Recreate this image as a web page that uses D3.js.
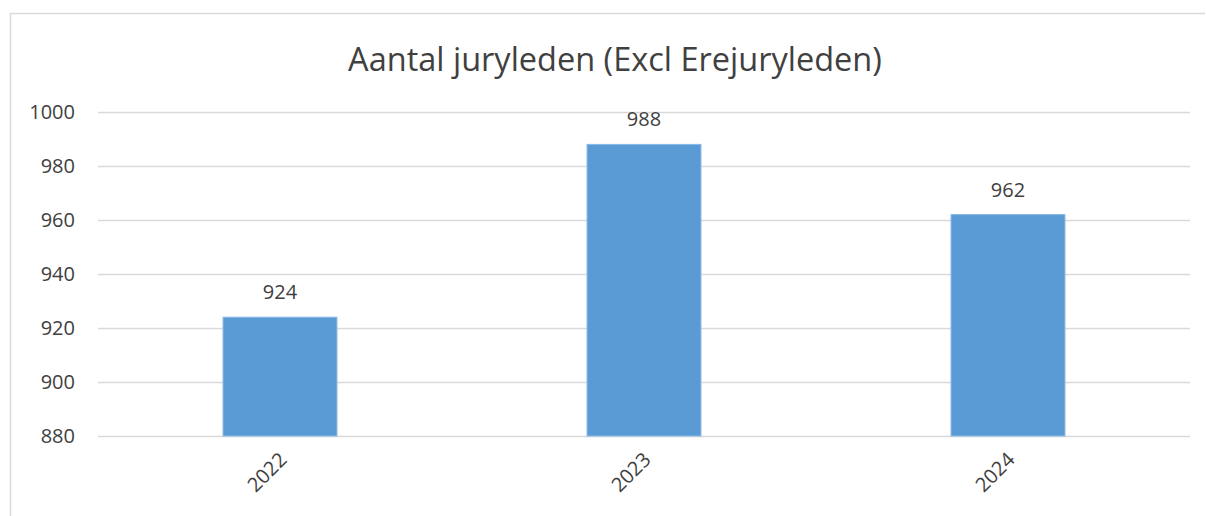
<!DOCTYPE html>
<html>
<head>
<meta charset="utf-8">
<script src="https://cdn.jsdelivr.net/npm/d3@7"></script>
<style>
  body { margin: 0; background: #fff; }
  text { font-family: "Open Sans", "Noto Sans", sans-serif; fill: #404040; }
</style>
</head>
<body>
<script>
// chart data
var years = ["2022", "2023", "2024"];
var members = [924, 988, 962];
var yTicks = [880, 900, 920, 940, 960, 980, 1000];
var title = "Aantal juryleden (Excl Erejuryleden)";

var w = 1206, h = 516;
var plotLeft = 98, plotRight = 1190, plotTop = 112, plotBottom = 436;

var svg = d3.select("body").append("svg")
  .attr("width", w)
  .attr("height", h);

// chart border (only top and left show in the crop)
svg.append("path")
  .attr("d", "M10.5," + h + "V13.5H" + (w - 1))
  .attr("fill", "none")
  .attr("stroke", "#d9d9d9")
  .attr("stroke-width", 1.5);

var x = d3.scaleBand()
  .domain(years)
  .range([plotLeft, plotRight])
  .paddingInner(0.687)
  .paddingOuter(0.3435);

var y = d3.scaleLinear()
  .domain([880, 1000])
  .range([plotBottom, plotTop]);

// gridlines + y labels
var yAxis = svg.append("g")
  .attr("transform", "translate(" + plotLeft + ",0)")
  .call(d3.axisLeft(y).tickValues(yTicks).tickFormat(d3.format("d"))
    .tickSize(-(plotRight - plotLeft)).tickPadding(23));
yAxis.select(".domain").remove();
yAxis.selectAll(".tick line").attr("stroke", "#d9d9d9").attr("stroke-width", 1.5);
yAxis.selectAll(".tick text")
  .attr("font-size", 20)
  .attr("font-family", "'Open Sans', sans-serif")
  .attr("fill", "#404040");

// bars
svg.selectAll("rect.bar")
  .data(members)
  .enter()
  .append("rect")
  .attr("class", "bar")
  .attr("x", function(d, i) { return x(years[i]); })
  .attr("y", function(d) { return y(d); })
  .attr("width", x.bandwidth())
  .attr("height", function(d) { return y(880) - y(d); })
  .attr("fill", "#5b9bd5")
  .attr("stroke", "#8ab8e6")
  .attr("stroke-width", 1);

// value labels
svg.selectAll("text.val")
  .data(members)
  .enter()
  .append("text")
  .attr("class", "val")
  .attr("x", function(d, i) { return x(years[i]) + x.bandwidth() / 2; })
  .attr("y", function(d) { return y(d) - 18; })
  .attr("text-anchor", "middle")
  .attr("font-size", 20)
  .text(function(d) { return d; });

// x labels, rotated
svg.selectAll("text.xl")
  .data(years)
  .enter()
  .append("text")
  .attr("class", "xl")
  .attr("text-anchor", "end")
  .attr("font-size", 20)
  .attr("transform", function(d) {
    return "translate(" + (x(d) + x.bandwidth() / 2 + 8) + "," + (plotBottom + 25) + ") rotate(-45)";
  })
  .text(function(d) { return d; });

// title
svg.append("text")
  .attr("x", 615)
  .attr("y", 71)
  .attr("text-anchor", "middle")
  .attr("font-size", 32.5)
  .text(title);
</script>
</body>
</html>
